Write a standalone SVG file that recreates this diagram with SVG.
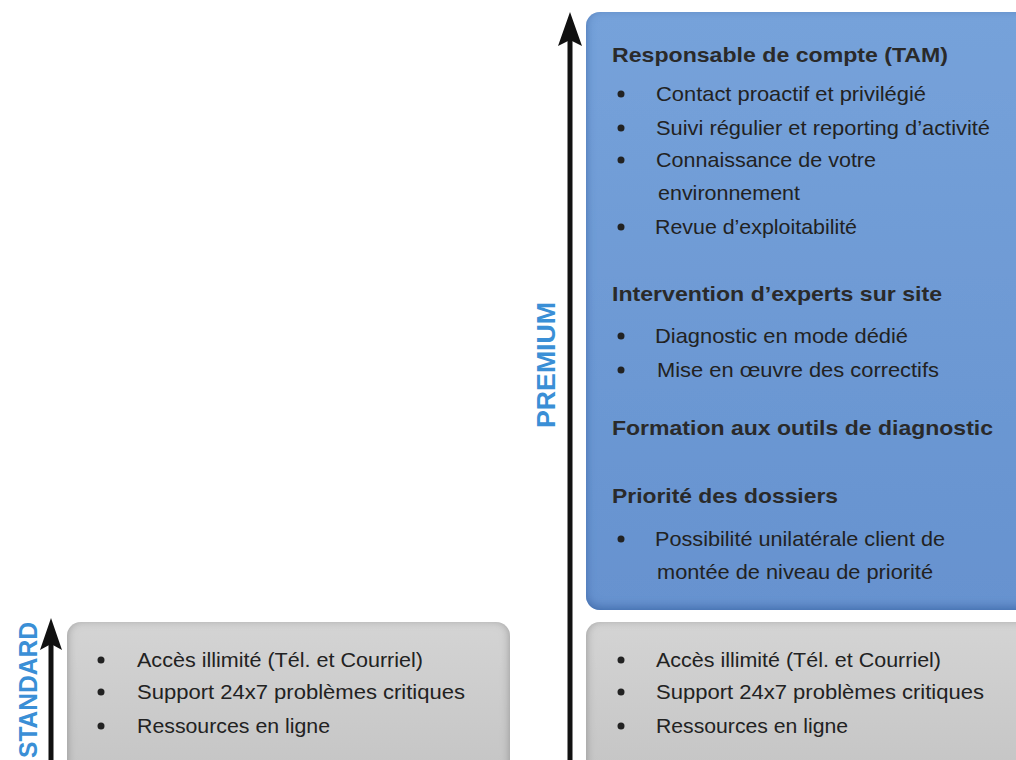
<svg xmlns="http://www.w3.org/2000/svg" width="1016" height="760" viewBox="0 0 1016 760">
<defs>
<style>
.t{font-family:"Liberation Sans",Arial,sans-serif;font-size:21px;fill:#222}
.h{font-family:"Liberation Sans",Arial,sans-serif;font-size:21px;font-weight:bold;fill:#2a2a2a}
.lbl{font-family:"Liberation Sans",Arial,sans-serif;font-size:25px;font-weight:bold;fill:#3a8fd6}
.b{fill:#222}
</style>
<filter id="innerBlue" x="-5%" y="-5%" width="110%" height="110%">
<feFlood flood-color="#3f6cab"/><feComposite in2="SourceAlpha" operator="out"/><feGaussianBlur stdDeviation="5"/><feOffset dy="-3"/><feComposite in2="SourceAlpha" operator="in" result="s"/><feMerge><feMergeNode in="SourceGraphic"/><feMergeNode in="s"/></feMerge>
</filter>
<filter id="innerGray" x="-5%" y="-5%" width="110%" height="110%">
<feFlood flood-color="#8a8a8a"/><feComposite in2="SourceAlpha" operator="out"/><feGaussianBlur stdDeviation="5"/><feOffset dy="-2"/><feComposite in2="SourceAlpha" operator="in" result="s"/><feMerge><feMergeNode in="SourceGraphic"/><feMergeNode in="s"/></feMerge>
</filter>
<linearGradient id="gb" x1="0" y1="0" x2="0" y2="1"><stop offset="0" stop-color="#76a2da"/><stop offset="1" stop-color="#6692cf"/></linearGradient>
<linearGradient id="gg" x1="0" y1="0" x2="0" y2="1"><stop offset="0" stop-color="#d4d4d4"/><stop offset="1" stop-color="#c4c4c4"/></linearGradient>
</defs>
<rect width="1016" height="760" fill="#fff"/>

<g id="connectors">
<line x1="570" y1="760" x2="570" y2="36" stroke="#111" stroke-width="5"/>
<path d="M570,12 L582,46 L570,40 L558,46 Z" fill="#111"/>
<line x1="51" y1="760" x2="51" y2="640" stroke="#111" stroke-width="5"/>
<path d="M51,618 L62,650 L51,644 L40,650 Z" fill="#111"/>
</g>

<g id="label-premium"><text class="lbl" transform="translate(555,365) rotate(-90)" text-anchor="middle" textLength="126" lengthAdjust="spacingAndGlyphs">PREMIUM</text></g>
<g id="label-standard"><text class="lbl" transform="translate(37,622) rotate(-90)" text-anchor="end" textLength="136" lengthAdjust="spacingAndGlyphs">STANDARD</text></g>

<g id="node-premium">
<rect x="586" y="12" width="450" height="598" rx="14" fill="url(#gb)" filter="url(#innerBlue)"/>
<text class="h" x="612" y="62" textLength="336" lengthAdjust="spacingAndGlyphs">Responsable de compte (TAM)</text>
<circle class="b" cx="621" cy="94" r="3.5"/><text class="t" x="656" y="101" textLength="270" lengthAdjust="spacingAndGlyphs">Contact proactif et privilégié</text>
<circle class="b" cx="621" cy="128" r="3.5"/><text class="t" x="656" y="135" textLength="334" lengthAdjust="spacingAndGlyphs">Suivi régulier et reporting d’activité</text>
<circle class="b" cx="621" cy="160" r="3.5"/><text class="t" x="656" y="167" textLength="220" lengthAdjust="spacingAndGlyphs">Connaissance de votre</text>
<text class="t" x="658" y="200" textLength="142" lengthAdjust="spacingAndGlyphs">environnement</text>
<circle class="b" cx="621" cy="227" r="3.5"/><text class="t" x="655" y="234" textLength="202" lengthAdjust="spacingAndGlyphs">Revue d’exploitabilité</text>
<text class="h" x="612" y="301" textLength="330" lengthAdjust="spacingAndGlyphs">Intervention d’experts sur site</text>
<circle class="b" cx="621" cy="336" r="3.5"/><text class="t" x="655" y="343" textLength="253" lengthAdjust="spacingAndGlyphs">Diagnostic en mode dédié</text>
<circle class="b" cx="621" cy="370" r="3.5"/><text class="t" x="657" y="377" textLength="282" lengthAdjust="spacingAndGlyphs">Mise en œuvre des correctifs</text>
<text class="h" x="612" y="435" textLength="381" lengthAdjust="spacingAndGlyphs">Formation aux outils de diagnostic</text>
<text class="h" x="612" y="503" textLength="226" lengthAdjust="spacingAndGlyphs">Priorité des dossiers</text>
<circle class="b" cx="621" cy="539" r="3.5"/><text class="t" x="655" y="546" textLength="290" lengthAdjust="spacingAndGlyphs">Possibilité unilatérale client de</text>
<text class="t" x="657" y="579" textLength="276" lengthAdjust="spacingAndGlyphs">montée de niveau de priorité</text>
</g>

<g id="node-premium-base">
<rect x="586" y="622" width="450" height="160" rx="14" fill="url(#gg)" filter="url(#innerGray)"/>
<circle class="b" cx="621" cy="660" r="3.5"/><text class="t" x="656" y="667" textLength="285" lengthAdjust="spacingAndGlyphs">Accès illimité (Tél. et Courriel)</text>
<circle class="b" cx="621" cy="692" r="3.5"/><text class="t" x="656" y="699" textLength="328" lengthAdjust="spacingAndGlyphs">Support 24x7 problèmes critiques</text>
<circle class="b" cx="621" cy="726" r="3.5"/><text class="t" x="656" y="733" textLength="192" lengthAdjust="spacingAndGlyphs">Ressources en ligne</text>
</g>

<g id="node-standard">
<rect x="67" y="622" width="443" height="160" rx="14" fill="url(#gg)" filter="url(#innerGray)"/>
<circle class="b" cx="101" cy="660" r="3.5"/><text class="t" x="137" y="667" textLength="286" lengthAdjust="spacingAndGlyphs">Accès illimité (Tél. et Courriel)</text>
<circle class="b" cx="101" cy="692" r="3.5"/><text class="t" x="137" y="699" textLength="328" lengthAdjust="spacingAndGlyphs">Support 24x7 problèmes critiques</text>
<circle class="b" cx="101" cy="726" r="3.5"/><text class="t" x="137" y="733" textLength="193" lengthAdjust="spacingAndGlyphs">Ressources en ligne</text>
</g>
</svg>
